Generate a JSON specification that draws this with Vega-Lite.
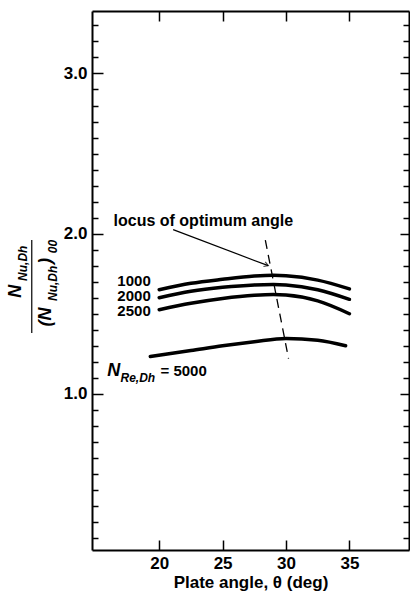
{
  "$schema": "https://vega.github.io/schema/vega-lite/v6.json",
  "width": 317,
  "height": 539,
  "autosize": "none",
  "padding": {"left": 92, "top": 11, "right": 1, "bottom": 45},
  "background": "white",
  "config": {
    "view": {"stroke": null},
    "font": "Liberation Sans",
    "axis": {"domainColor": "black", "domainWidth": 2, "tickColor": "black", "tickWidth": 1.5, "labelColor": "black", "labelFont": "Liberation Sans", "labelFontSize": 17, "labelFontWeight": "bold", "grid": false, "titleColor": "black", "titleFont": "Liberation Sans"}
  },
  "datasets": {
    "curves": [
      {"Re": 1000, "theta": 20, "ratio": 1.65}, {"Re": 1000, "theta": 22.5, "ratio": 1.69}, {"Re": 1000, "theta": 25, "ratio": 1.715}, {"Re": 1000, "theta": 27.5, "ratio": 1.735}, {"Re": 1000, "theta": 29, "ratio": 1.74}, {"Re": 1000, "theta": 30, "ratio": 1.737}, {"Re": 1000, "theta": 32.5, "ratio": 1.71}, {"Re": 1000, "theta": 35, "ratio": 1.655},
      {"Re": 2000, "theta": 20, "ratio": 1.6}, {"Re": 2000, "theta": 22.5, "ratio": 1.64}, {"Re": 2000, "theta": 25, "ratio": 1.665}, {"Re": 2000, "theta": 27.5, "ratio": 1.68}, {"Re": 2000, "theta": 29, "ratio": 1.683}, {"Re": 2000, "theta": 30, "ratio": 1.68}, {"Re": 2000, "theta": 32.5, "ratio": 1.65}, {"Re": 2000, "theta": 35, "ratio": 1.59},
      {"Re": 2500, "theta": 20, "ratio": 1.525}, {"Re": 2500, "theta": 22.5, "ratio": 1.565}, {"Re": 2500, "theta": 25, "ratio": 1.595}, {"Re": 2500, "theta": 27.5, "ratio": 1.615}, {"Re": 2500, "theta": 29, "ratio": 1.62}, {"Re": 2500, "theta": 30, "ratio": 1.617}, {"Re": 2500, "theta": 32.5, "ratio": 1.58}, {"Re": 2500, "theta": 35, "ratio": 1.5},
      {"Re": 5000, "theta": 19.3, "ratio": 1.233}, {"Re": 5000, "theta": 22.5, "ratio": 1.27}, {"Re": 5000, "theta": 25, "ratio": 1.3}, {"Re": 5000, "theta": 27.5, "ratio": 1.325}, {"Re": 5000, "theta": 30, "ratio": 1.345}, {"Re": 5000, "theta": 32.5, "ratio": 1.335}, {"Re": 5000, "theta": 34.7, "ratio": 1.3}
    ],
    "locus": [{"theta": 28.37, "ratio": 1.96}, {"theta": 30.2, "ratio": 1.22}],
    "leader": [{"theta": 21.1, "ratio": 2.025}, {"theta": 28.6, "ratio": 1.8}],
    "tip": [{"theta": 28.6, "ratio": 1.8}],
    "labels": [
      {"theta": 16.4, "ratio": 2.08, "text": "locus of optimum angle"}
    ],
    "reLabels": [
      {"theta": 16.7, "ratio": 1.705, "text": "1000"},
      {"theta": 16.7, "ratio": 1.61, "text": "2000"},
      {"theta": 16.7, "ratio": 1.515, "text": "2500"},
      {"theta": 20.1, "ratio": 1.14, "text": "= 5000"}
    ],
    "bigItalic": [{"theta": 15.9, "ratio": 1.14, "text": "N"}],
    "smallItalic": [{"theta": 16.95, "ratio": 1.1, "text": "Re,Dh"}],
    "rotBig": [
      {"theta": 8.7, "ratio": 1.64, "text": "N"},
      {"theta": 11.08, "ratio": 1.48, "text": "(N"},
      {"theta": 11.08, "ratio": 1.83, "text": ")"}
    ],
    "rotSmall": [
      {"theta": 9.25, "ratio": 1.815, "text": "Nu,Dh"},
      {"theta": 11.6, "ratio": 1.69, "text": "Nu,Dh"},
      {"theta": 11.6, "ratio": 1.92, "text": "00"}
    ],
    "bar": [{"theta": 9.95, "ratio": 1.38, "ratio2": 1.96}]
  },
  "layer": [
    {
      "data": {"name": "curves"},
      "mark": {"type": "line", "color": "black", "strokeWidth": 3.5, "interpolate": "monotone", "strokeCap": "round"},
      "encoding": {
        "x": {"field": "theta", "type": "quantitative", "scale": {"domain": [14.7, 39.7], "nice": false, "zero": false},
          "axis": {"orient": "bottom", "values": [20, 25, 30, 35], "tickSize": -10, "labelPadding": 15, "title": "Plate angle, θ (deg)", "titleFontSize": 17, "titleFontWeight": "bold", "titlePadding": 3}},
        "y": {"field": "ratio", "type": "quantitative", "scale": {"domain": [0.025, 3.39], "nice": false, "zero": false},
          "axis": {"orient": "left", "values": [0.1, 0.2, 0.3, 0.4, 0.5, 0.6, 0.7, 0.8, 0.9, 1, 1.1, 1.2, 1.3, 1.4, 1.5, 1.6, 1.7, 1.8, 1.9, 2, 2.1, 2.2, 2.3, 2.4, 2.5, 2.6, 2.7, 2.8, 2.9, 3, 3.1, 3.2, 3.3],
            "tickSize": {"condition": {"test": "abs(datum.value - round(datum.value)) < 0.001", "value": -11}, "value": -6},
            "labelExpr": "abs(datum.value - round(datum.value)) < 0.001 ? format(datum.value, '.1f') : ''",
            "labelPadding": 16, "title": null}},
        "detail": {"field": "Re", "type": "nominal"}
      }
    },
    {
      "data": {"name": "locus"},
      "mark": {"type": "line", "color": "black", "strokeWidth": 1.3, "strokeDash": [9, 6]},
      "encoding": {
        "x": {"field": "theta", "type": "quantitative", "scale": {"domain": [14.7, 39.7], "nice": false, "zero": false},
          "axis": {"orient": "top", "values": [20, 25, 30, 35], "tickSize": -10, "labels": false, "title": null}},
        "y": {"field": "ratio", "type": "quantitative", "scale": {"domain": [0.025, 3.39], "nice": false, "zero": false},
          "axis": {"orient": "right", "values": [0.1, 0.2, 0.3, 0.4, 0.5, 0.6, 0.7, 0.8, 0.9, 1, 1.1, 1.2, 1.3, 1.4, 1.5, 1.6, 1.7, 1.8, 1.9, 2, 2.1, 2.2, 2.3, 2.4, 2.5, 2.6, 2.7, 2.8, 2.9, 3, 3.1, 3.2, 3.3],
            "tickSize": {"condition": {"test": "abs(datum.value - round(datum.value)) < 0.001", "value": -9}, "value": -6}, "labels": false, "title": null}}
      }
    },
    {
      "data": {"name": "leader"},
      "mark": {"type": "line", "color": "black", "strokeWidth": 1.2},
      "encoding": {
        "x": {"field": "theta", "type": "quantitative", "scale": {"domain": [14.7, 39.7], "nice": false, "zero": false}, "axis": null},
        "y": {"field": "ratio", "type": "quantitative", "scale": {"domain": [0.025, 3.39], "nice": false, "zero": false}, "axis": null}
      }
    },
    {
      "data": {"name": "tip"},
      "mark": {"type": "point", "shape": "M -1 -0.6 L 0 0 L -1 0.6", "filled": false, "stroke": "black", "strokeWidth": 1.2, "size": 70, "angle": 21},
      "encoding": {
        "x": {"field": "theta", "type": "quantitative", "scale": {"domain": [14.7, 39.7], "nice": false, "zero": false}, "axis": null},
        "y": {"field": "ratio", "type": "quantitative", "scale": {"domain": [0.025, 3.39], "nice": false, "zero": false}, "axis": null}
      }
    },
    {
      "data": {"name": "labels"},
      "mark": {"type": "text", "align": "left", "baseline": "middle", "fontSize": 16, "fontWeight": "bold", "font": "Liberation Sans", "color": "black"},
      "encoding": {
        "x": {"field": "theta", "type": "quantitative", "scale": {"domain": [14.7, 39.7], "nice": false, "zero": false}, "axis": null},
        "y": {"field": "ratio", "type": "quantitative", "scale": {"domain": [0.025, 3.39], "nice": false, "zero": false}, "axis": null},
        "text": {"field": "text"}
      }
    },
    {
      "data": {"name": "reLabels"},
      "mark": {"type": "text", "align": "left", "baseline": "middle", "fontSize": 15, "fontWeight": "bold", "font": "Liberation Sans", "color": "black"},
      "encoding": {
        "x": {"field": "theta", "type": "quantitative", "scale": {"domain": [14.7, 39.7], "nice": false, "zero": false}, "axis": null},
        "y": {"field": "ratio", "type": "quantitative", "scale": {"domain": [0.025, 3.39], "nice": false, "zero": false}, "axis": null},
        "text": {"field": "text"}
      }
    },
    {
      "data": {"name": "bigItalic"},
      "mark": {"type": "text", "align": "left", "baseline": "middle", "fontSize": 18, "fontStyle": "italic", "fontWeight": "bold", "font": "Liberation Sans", "color": "black"},
      "encoding": {
        "x": {"field": "theta", "type": "quantitative", "scale": {"domain": [14.7, 39.7], "nice": false, "zero": false}, "axis": null},
        "y": {"field": "ratio", "type": "quantitative", "scale": {"domain": [0.025, 3.39], "nice": false, "zero": false}, "axis": null},
        "text": {"field": "text"}
      }
    },
    {
      "data": {"name": "smallItalic"},
      "mark": {"type": "text", "align": "left", "baseline": "middle", "fontSize": 12, "fontStyle": "italic", "fontWeight": "bold", "font": "Liberation Sans", "color": "black"},
      "encoding": {
        "x": {"field": "theta", "type": "quantitative", "scale": {"domain": [14.7, 39.7], "nice": false, "zero": false}, "axis": null},
        "y": {"field": "ratio", "type": "quantitative", "scale": {"domain": [0.025, 3.39], "nice": false, "zero": false}, "axis": null},
        "text": {"field": "text"}
      }
    },
    {
      "data": {"name": "rotBig"},
      "mark": {"type": "text", "align": "center", "baseline": "middle", "angle": 270, "fontSize": 18, "fontStyle": "italic", "fontWeight": "bold", "font": "Liberation Sans", "color": "black"},
      "encoding": {
        "x": {"field": "theta", "type": "quantitative", "scale": {"domain": [14.7, 39.7], "nice": false, "zero": false}, "axis": null},
        "y": {"field": "ratio", "type": "quantitative", "scale": {"domain": [0.025, 3.39], "nice": false, "zero": false}, "axis": null},
        "text": {"field": "text"}
      }
    },
    {
      "data": {"name": "rotSmall"},
      "mark": {"type": "text", "align": "center", "baseline": "middle", "angle": 270, "fontSize": 12, "fontStyle": "italic", "fontWeight": "bold", "font": "Liberation Sans", "color": "black"},
      "encoding": {
        "x": {"field": "theta", "type": "quantitative", "scale": {"domain": [14.7, 39.7], "nice": false, "zero": false}, "axis": null},
        "y": {"field": "ratio", "type": "quantitative", "scale": {"domain": [0.025, 3.39], "nice": false, "zero": false}, "axis": null},
        "text": {"field": "text"}
      }
    },
    {
      "data": {"name": "bar"},
      "mark": {"type": "rule", "color": "black", "strokeWidth": 1.2},
      "encoding": {
        "x": {"field": "theta", "type": "quantitative", "scale": {"domain": [14.7, 39.7], "nice": false, "zero": false}, "axis": null},
        "y": {"field": "ratio", "type": "quantitative", "scale": {"domain": [0.025, 3.39], "nice": false, "zero": false}, "axis": null},
        "y2": {"field": "ratio2"}
      }
    }
  ],
  "resolve": {"axis": {"x": "independent", "y": "independent"}}
}
